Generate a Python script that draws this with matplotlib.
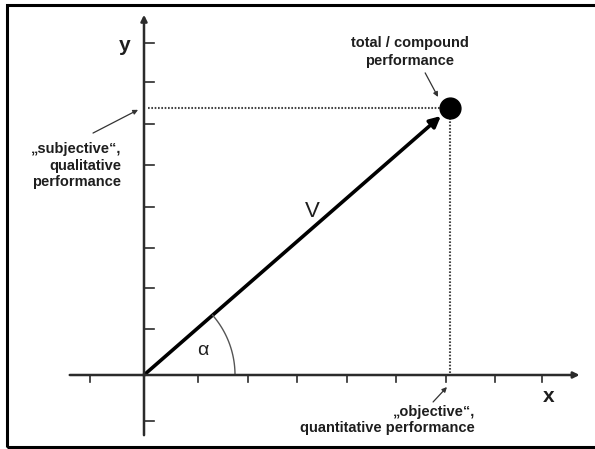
import numpy as np
import matplotlib
matplotlib.use('Agg')
import matplotlib.pyplot as plt
from matplotlib.patches import FancyArrowPatch, Rectangle

# conceptual diagram values (in tick units)
X_TICKS = [-1.1, 1.1, 2.1, 3.1, 4.1, 5.1, 6.1, 7.1, 8.05]
Y_TICKS = [-1.1, 1.1, 2.1, 3.05, 4.05, 5.05, 6.05, 7.05, 8.0]
POINT = (6.18, 6.43)
AXIS_X = (-1.5, 8.8)
AXIS_Y = (-1.45, 8.68)

LABEL_TOTAL = 'total / compound\nperformance'
LABEL_SUBJ = '\u201esubjective\u201c,\nqualitative\nperformance'
LABEL_OBJ = '\u201eobjective\u201c,\nquantitative performance'

# layout: pixels per unit and origin position in the 595x449 image
W, H = 595, 449
UX, UY = 49.5, 41.5
OX, OY = 144, 375

plt.rcParams['font.family'] = ['Liberation Sans', 'DejaVu Sans']
fig = plt.figure(figsize=(W / 100, H / 100), dpi=100)
ax = fig.add_axes([0, 0, 1, 1])
ax.set_xlim(-OX / UX, (W - OX) / UX)
ax.set_ylim(-(H - OY) / UY, OY / UY)
ax.axis('off')

axc = '#2b2b2b'
txt = '#1e1e1e'

# frame
fig.patches.append(Rectangle((7 / W, 1 - 447 / H), 1.2, (447 - 5) / H, transform=fig.transFigure,
                             fill=False, edgecolor='black', linewidth=2.2))

# axes with arrows
ax.annotate('', xy=(AXIS_X[1], 0), xytext=(AXIS_X[0], 0),
            arrowprops=dict(arrowstyle='-|>', lw=1.8, color=axc, mutation_scale=9, shrinkA=0, shrinkB=0))
ax.annotate('', xy=(0, AXIS_Y[1]), xytext=(0, AXIS_Y[0]),
            arrowprops=dict(arrowstyle='-|>', lw=1.8, color=axc, mutation_scale=9, shrinkA=0, shrinkB=0))
for t in X_TICKS:
    ax.plot([t, t], [0, -7 / UY], color=axc, lw=1.2)
for t in Y_TICKS:
    ax.plot([0, 10 / UX], [t, t], color=axc, lw=1.2)

# dotted guide lines
px, py = POINT
ax.plot([4 / UX, px], [py, py], color='#444444', lw=1.5, ls=(0, (0.8, 0.8)))
ax.plot([px, px], [py, 0], color='#444444', lw=1.5, ls=(0, (0.8, 0.8)))

# vector
ang = np.arctan2(py * UY, px * UX)
tip_px = np.hypot(px * UX, py * UY) - 12
tip = (tip_px * np.cos(ang) / UX, tip_px * np.sin(ang) / UY)
ax.add_patch(FancyArrowPatch((0, 0), tip, arrowstyle='-|>', mutation_scale=16,
                             lw=2.6, color='black', shrinkA=0, shrinkB=0))
ax.plot([px], [py], 'o', color='black', markersize=15, zorder=5)

# angle arc
r = 91
tt = np.linspace(0, ang, 60)
ax.plot(r * np.cos(tt) / UX, r * np.sin(tt) / UY, color='#555555', lw=1.0)

# labels
ax.text(-0.40, 7.95, 'y', fontsize=15, fontweight='bold', color=txt, ha='center', va='center')
ax.text(8.18, -0.53, 'x', fontsize=15, fontweight='bold', color=txt, ha='center', va='center')
ax.text(3.41, 3.93, 'V', fontsize=16, color=txt, ha='center', va='center')
ax.text(1.19, 0.58, '\u03b1', fontsize=14, color=txt, ha='center', va='center')

ax.text(5.37, 7.78, LABEL_TOTAL, fontsize=10.5, fontweight='bold', color=txt,
        ha='center', va='center', multialignment='center', linespacing=1.4)
ax.text(-0.46, 5.04, LABEL_SUBJ, fontsize=10.5, fontweight='bold', color=txt,
        ha='right', va='center', multialignment='right', linespacing=1.22)
ax.text(6.69, -1.08, LABEL_OBJ, fontsize=10.5, fontweight='bold', color=txt,
        ha='right', va='center', multialignment='right', linespacing=1.22)

pointer = dict(arrowstyle='-|>', lw=0.9, color='#333333', mutation_scale=7, shrinkA=0, shrinkB=0)
ax.annotate('', xy=(5.94, 6.70), xytext=(5.68, 7.28), arrowprops=pointer)
ax.annotate('', xy=(-0.12, 6.39), xytext=(-1.03, 5.83), arrowprops=pointer)
ax.annotate('', xy=(6.12, -0.29), xytext=(5.84, -0.65), arrowprops=pointer)

fig.savefig('out.png', dpi=100)
